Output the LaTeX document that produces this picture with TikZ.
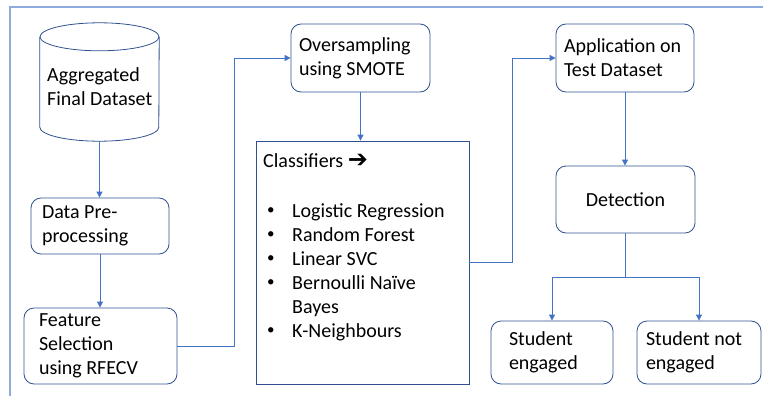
\documentclass[tikz,border=0pt]{standalone}
\usepackage{fontspec}
\setmainfont{Carlito}
\newfontfamily\symfont{DejaVu Sans}
\usetikzlibrary{arrows.meta}
\definecolor{boxc}{HTML}{2F528F}
\definecolor{linec}{HTML}{4472C4}
\definecolor{framec}{HTML}{8FAADC}
\newcommand{\mybul}{\makebox[25pt][l]{\raisebox{3pt}{\fontsize{15}{15}\selectfont •}}}
\begin{document}
\begin{tikzpicture}[x=1pt,y=-1pt,
  txt/.style={font=\fontsize{20}{24}\selectfont, text=black},
  box/.style={txt, draw=boxc, line width=0.8pt, rounded corners=10pt, align=flush left, inner ysep=0pt},
  sqbox/.style={draw=boxc, line width=0.8pt, inner sep=0pt},
  conn/.style={draw=linec, line width=0.8pt},
  arr/.style={conn, -{Triangle[length=6pt,width=6pt]}},
  frame/.style={draw=framec, line width=1.2pt},
]
\useasboundingbox (0,0) rectangle (763,396);
% outer frame
\draw[frame] (10,396) -- (10,7) -- (763,7);

% cylinder (Aggregated Final Dataset)
\node[minimum width=119pt, minimum height=118pt, inner sep=0pt] (agg) at (99.5,82) {};
\draw[boxc, line width=0.8pt] ([yshift=-14pt]agg.north west) -- ([yshift=14pt]agg.south west)
  arc[start angle=180, end angle=360, x radius=59.5pt, y radius=14pt]
  -- ([yshift=-14pt]agg.north east);
\draw[boxc, line width=0.8pt] ([yshift=-14pt]agg.north) ellipse[x radius=59.5pt, y radius=14pt];
\node[txt, align=left, anchor=north west, inner sep=0pt] (aggtext) at (47,67) {Aggregated\\Final Dataset};

% boxes
\node[box, minimum width=138pt, minimum height=56pt, text width=116pt, inner xsep=11pt] (pre) at (100,226) {Data Pre-\\processing};
\node[box, minimum width=153pt, minimum height=76pt, text width=123pt, inner xsep=15pt] (feat) at (100.5,346) {Feature\\Selection\\using RFECV};
\node[box, minimum width=139pt, minimum height=68pt, text width=123pt, inner xsep=8pt] (over) at (360.5,58) {Oversampling\\using SMOTE};
\node[box, minimum width=138pt, minimum height=68pt, text width=122pt, inner xsep=8pt] (app) at (625,58) {Application on\\Test Dataset};
\node[box, minimum width=139pt, minimum height=67pt, align=center] (det) at (625.5,199.5) {Detection};
\node[box, minimum width=122pt, minimum height=63pt, text width=86pt, inner xsep=18pt] (seng) at (552,352.5) {Student\\engaged};
\node[box, minimum width=124pt, minimum height=63pt, text width=106pt, inner xsep=9pt] (snot) at (699,352.5) {Student not\\engaged};

% classifiers box
\node[sqbox, minimum width=213pt, minimum height=243pt] (cls) at (362.5,262.5) {};
\node[txt, anchor=base west, inner sep=0pt] (clstitle) at (263,167) {Classifiers {\symfont\bfseries\fontsize{24}{24}\selectfont ➔}};
\node[txt, anchor=base west, inner sep=0pt] (c1) at (267,217) {\mybul Logistic Regression};
\node[txt, anchor=base west, inner sep=0pt] (c2) at (267,241) {\mybul Random Forest};
\node[txt, anchor=base west, inner sep=0pt] (c3) at (267,265) {\mybul Linear SVC};
\node[txt, anchor=base west, inner sep=0pt] (c4) at (267,289) {\mybul Bernoulli Naïve};
\node[txt, anchor=base west, inner sep=0pt] (c4b) at (292,313) {Bayes};
\node[txt, anchor=base west, inner sep=0pt] (c5) at (267,337) {\mybul K-Neighbours};

% connectors
\draw[arr] (agg.south) -- (agg.south |- pre.north);
\draw[arr] (pre.south) -- (pre.south |- feat.north);
\draw[arr] (feat.east) -- ++(57,0) |- (over.west);
\draw[arr] (over.south) -- (over.south |- cls.north);
\draw[arr] (cls.east) -- ++(43,0) |- (app.west);
\draw[arr] (app.south) -- (app.south |- det.north);
\draw[conn] (det.south) -- ++(0,44) coordinate (split);
\draw[arr] (split) -| (seng.north);
\draw[arr] (split) -| (snot.north);
\end{tikzpicture}
\end{document}
